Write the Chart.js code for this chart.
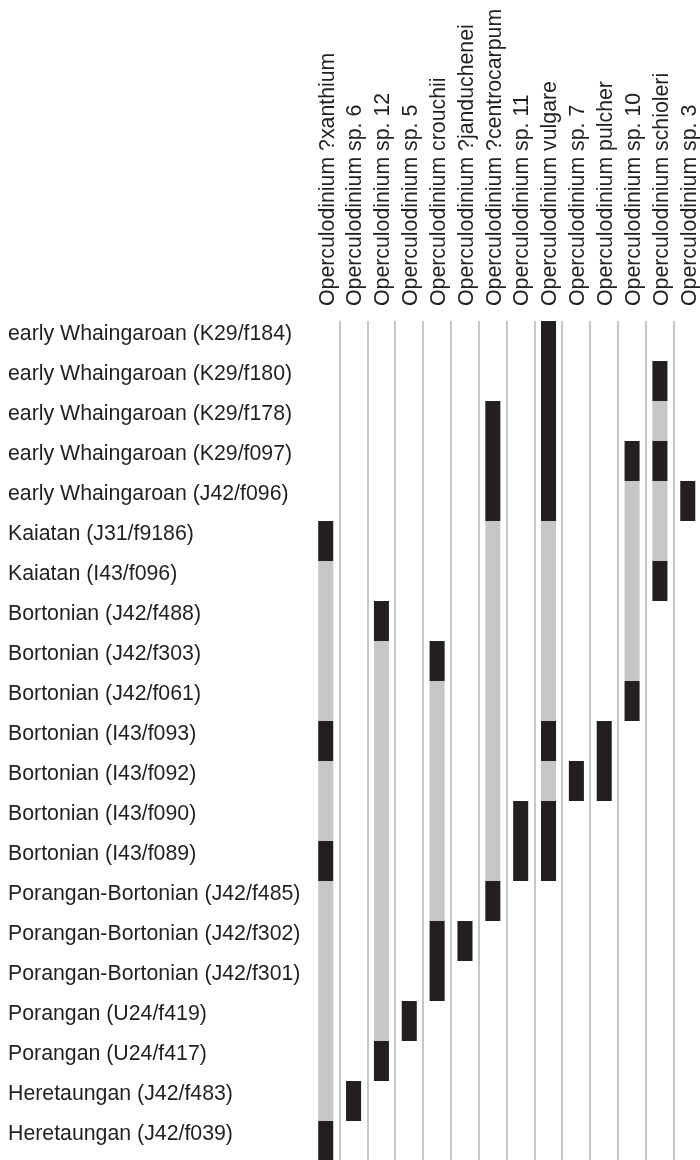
<!DOCTYPE html>
<html>
<head>
<meta charset="utf-8">
<script src="https://cdn.jsdelivr.net/npm/chart.js@4"></script>
<style>
  html, body { margin: 0; padding: 0; overflow: hidden; background: #fff; }
  #wrap { position: relative; width: 703px; height: 1161px; }
</style>
</head>
<body>
<div id="wrap"><canvas id="rangeChart"></canvas></div>
<script>
const species = [
  "Operculodinium ?xanthium",
  "Operculodinium sp. 6",
  "Operculodinium sp. 12",
  "Operculodinium sp. 5",
  "Operculodinium crouchii",
  "Operculodinium ?janduchenei",
  "Operculodinium ?centrocarpum",
  "Operculodinium sp. 11",
  "Operculodinium vulgare",
  "Operculodinium sp. 7",
  "Operculodinium pulcher",
  "Operculodinium sp. 10",
  "Operculodinium schioleri",
  "Operculodinium sp. 3",
];

const samples = [
  "early Whaingaroan (K29/f184)",
  "early Whaingaroan (K29/f180)",
  "early Whaingaroan (K29/f178)",
  "early Whaingaroan (K29/f097)",
  "early Whaingaroan (J42/f096)",
  "Kaiatan (J31/f9186)",
  "Kaiatan (I43/f096)",
  "Bortonian (J42/f488)",
  "Bortonian (J42/f303)",
  "Bortonian (J42/f061)",
  "Bortonian (I43/f093)",
  "Bortonian (I43/f092)",
  "Bortonian (I43/f090)",
  "Bortonian (I43/f089)",
  "Porangan-Bortonian (J42/f485)",
  "Porangan-Bortonian (J42/f302)",
  "Porangan-Bortonian (J42/f301)",
  "Porangan (U24/f419)",
  "Porangan (U24/f417)",
  "Heretaungan (J42/f483)",
  "Heretaungan (J42/f039)",
];

// recorded occurrences (black): [species index, first sample row, last sample row]
const recorded = [
  [0, 5, 5], [0, 10, 10], [0, 13, 13], [0, 20, 20],
  [1, 19, 19],
  [2, 7, 7], [2, 18, 18],
  [3, 17, 17],
  [4, 8, 8], [4, 15, 16],
  [5, 15, 15],
  [6, 2, 4], [6, 14, 14],
  [7, 12, 13],
  [8, 0, 4], [8, 10, 10], [8, 12, 13],
  [9, 11, 11],
  [10, 10, 11],
  [11, 3, 3], [11, 9, 9],
  [12, 1, 1], [12, 3, 3], [12, 6, 6],
  [13, 4, 4],
];

// range-through, not recorded (grey): [species index, first row, last row]
const rangeThrough = [
  [0, 6, 9], [0, 11, 12], [0, 14, 19],
  [2, 8, 17],
  [4, 9, 14],
  [6, 5, 13],
  [8, 5, 9], [8, 11, 11],
  [11, 4, 8],
  [12, 2, 2], [12, 4, 5],
];

const toBars = (list) => list.map(([s, from, to]) => ({ x: species[s], y: [from, to + 1] }));

const ink = "#231f20";
const grey = "#c6c7c9";
const font = { family: "'Liberation Sans', Arial, sans-serif", size: 21.3 };

new Chart(document.getElementById("rangeChart"), {
  type: "bar",
  data: {
    labels: species,
    datasets: [
      { label: "range", data: toBars(rangeThrough), backgroundColor: grey },
      { label: "recorded", data: toBars(recorded), backgroundColor: ink },
    ],
  },
  options: {
    responsive: true,
    maintainAspectRatio: false,
    animation: false,
    grouped: false,
    categoryPercentage: 1,
    barPercentage: 0.54,
    borderSkipped: false,
    layout: { padding: { left: 8, right: 1.3, top: 0, bottom: 0 } },
    plugins: {
      legend: { display: false },
      tooltip: { enabled: false },
    },
    scales: {
      x: {
        position: "top",
        grid: {
          offset: true,
          drawTicks: false,
          lineWidth: 2,
          color: (ctx) => (ctx.index === 0 ? "rgba(0,0,0,0)" : grey),
        },
        border: { display: false },
        ticks: {
          color: ink,
          font: font,
          minRotation: 90,
          maxRotation: 90,
          autoSkip: false,
          padding: 15,
          labelOffset: 27.5, // top + rotated labels sit a line-height too far left
        },
        afterFit: (scale) => {
          scale.height = 321;
          scale.paddingLeft = 0;
          scale.paddingRight = 0;
        },
      },
      y: {
        type: "linear",
        min: 0,
        max: samples.length,
        reverse: true,
        grid: { display: false },
        border: { display: false },
        ticks: {
          color: ink,
          font: font,
          crossAlign: "far",
          padding: 0,
          labelOffset: -7,
          autoSkip: false,
          callback: (value, index) => samples[index],
        },
        afterBuildTicks: (scale) => {
          scale.ticks = samples.map((_, i) => ({ value: i + 0.5 }));
        },
        afterFit: (scale) => {
          scale.width = 303.8;
          scale.paddingTop = 0;
          scale.paddingBottom = 0;
        },
      },
    },
  },
});
</script>
</body>
</html>
